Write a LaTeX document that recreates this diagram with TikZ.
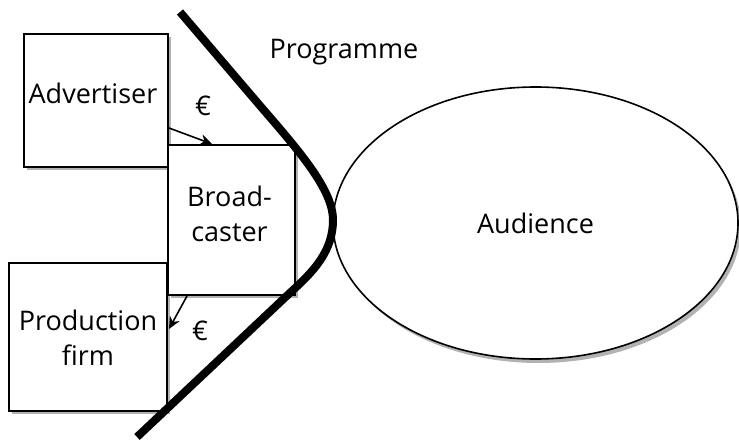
\documentclass[tikz,border=0pt]{standalone}
\usepackage{fontspec}
\setmainfont{Open Sans}
\usetikzlibrary{shadows,arrows.meta,calc,shapes.geometric}
\begin{document}
\begin{tikzpicture}[x=1pt,y=-1pt,
  box/.style={draw=black,line width=2pt,fill=white,rectangle,inner sep=0pt,
    drop shadow={shadow xshift=3pt,shadow yshift=-3pt,opacity=0.3,fill=black}},
  lbl/.style={font=\fontsize{27}{35}\selectfont,inner sep=0pt,align=center},
  money/.style={line width=1.6pt,-{Stealth[length=12pt,width=11pt]}},
  curve/.style={line width=8pt}]
\useasboundingbox (0,0) rectangle (739,441);
\fill[white] (0,0) rectangle (739,441);
% Audience ellipse
\node[draw,line width=1.6pt,fill=white,ellipse,minimum width=405pt,minimum height=272pt,inner sep=0pt,
  drop shadow={shadow xshift=3pt,shadow yshift=-4pt,opacity=0.3,fill=black},
  lbl] (aud) at (535.5,223) {Audience};
% boxes
\node[box,minimum width=144pt,minimum height=133pt] (adv) at (96,100.5) {};
\node[box,minimum width=158pt,minimum height=148pt] (prod) at (88,337) {};
\node[box,minimum width=127pt,minimum height=150pt] (bc) at (231.5,220) {};
\node[lbl] (advt) at ($(adv)+(-3,-7)$) {Advertiser};
\node[lbl] (prodt) at ($(prod)+(0,1)$) {Production\\firm};
\node[lbl] (bct) at ($(bc)+(-2,-6)$) {Broad-\\caster};
% programme curve
\draw[curve] (180,12) -- (262,108) .. controls (300,152) and (333,190) .. (333,220)
  .. controls (333,250) and (315,270) .. (293,290) -- (137,437);
\node[lbl] (prog) at (344,52) {Programme};
% money arrows
\draw[money] ($(adv.south east)+(0,-40)$) -- ($(bc.north west)+(45,0)$);
\draw[money] ($(bc.south west)+(20,0)$) -- ($(prod.north east)+(1,67)$);
\node[lbl] (e1) at (203,106) {€};
\node[lbl] (e2) at (200,331) {€};
\end{tikzpicture}
\end{document}
